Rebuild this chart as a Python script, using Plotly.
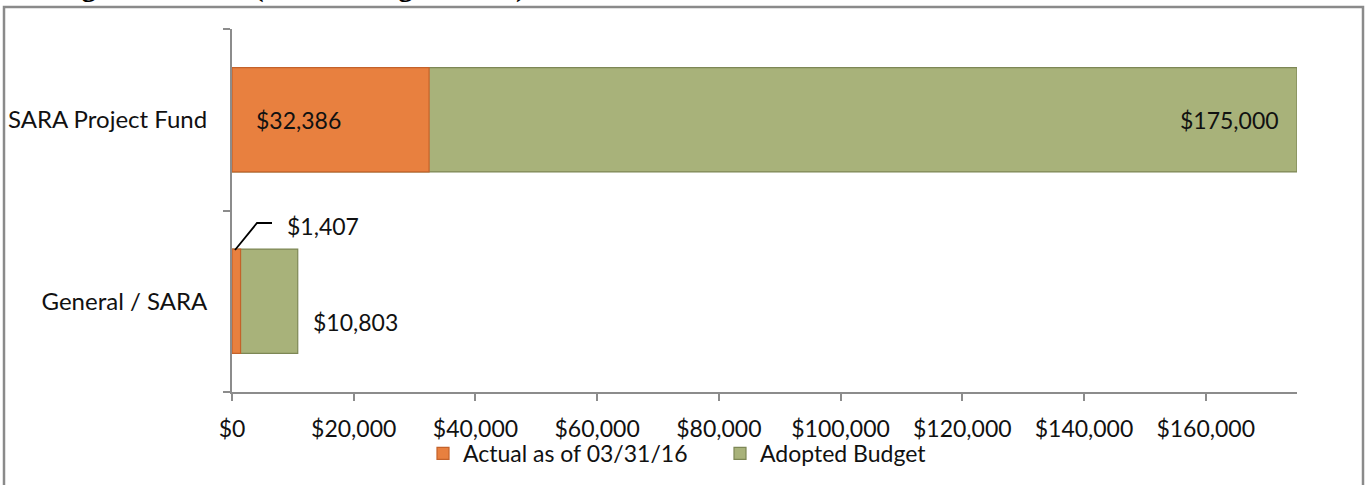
import plotly.graph_objects as go

categories = ["General / SARA", "SARA Project Fund"]
actual = [1407, 32386]
budget = [10803, 175000]
x_ticks = [0, 20000, 40000, 60000, 80000, 100000, 120000, 140000, 160000]
series_names = ["Actual as of 03/31/16", "Adopted Budget"]
title_text = "Budget vs. Actual (All Funding Sources)"

W, H = 1367, 485
ML, MR, MT, MB = 232, 70, 29, 93
PW, PH = W - ML - MR, H - MT - MB

FONT = "Lato"
FS = 23
TXT = "#111111"
ORANGE = "#E8803F"
GREEN = "#A8B27A"


def money(v):
    return "${:,.0f}".format(v)


fig = go.Figure()
fig.add_trace(go.Bar(
    y=categories, x=budget, orientation="h", name=series_names[1],
    marker=dict(color=GREEN, line=dict(color="#7D8755", width=1.2)),
    width=0.575, hoverinfo="x",
))
fig.add_trace(go.Bar(
    y=categories, x=actual, orientation="h", name=series_names[0],
    marker=dict(color=ORANGE, line=dict(color="#C4622A", width=1.2)),
    width=0.575, hoverinfo="x",
))

lab_font = dict(family=FONT, size=FS, color=TXT)
# data labels
fig.add_annotation(x=0, y=categories[1], text=money(actual[1]), showarrow=False,
                   xanchor="left", xshift=22, font=lab_font)
fig.add_annotation(x=budget[1], y=categories[1], text=money(budget[1]), showarrow=False,
                   xanchor="right", xshift=-16, font=lab_font)
fig.add_annotation(x=budget[0], y=categories[0], text=money(budget[0]), showarrow=False,
                   xanchor="left", xshift=13, yshift=-21, font=lab_font)
fig.add_annotation(x=actual[0], y=categories[0], text=money(actual[0]), showarrow=False,
                   xanchor="left", xshift=44, yshift=75, font=lab_font)


def px_x(p):
    return (p - ML) / PW


def px_y(p):
    return 1 - (p - MT) / PH


# leader line for the small label (elbow)
fig.add_shape(type="path",
              path=f"M {px_x(235)},{px_y(250)} L {px_x(257)},{px_y(223)} L {px_x(272)},{px_y(223)}",
              xref="paper", yref="paper", line=dict(color="#000000", width=1.8))

# outer frame
fig.add_shape(type="rect", xref="paper", yref="paper",
              x0=px_x(4), x1=px_x(1363), y0=px_y(495), y1=px_y(7),
              line=dict(color="#8A8A8A", width=2.5), layer="below")

# clipped title at the very top
fig.add_annotation(xref="paper", yref="paper", x=px_x(28), y=px_y(4.5), xanchor="left", yanchor="bottom",
                   text="<b>" + title_text + "</b>", showarrow=False,
                   font=dict(family="Liberation Serif", size=29, color="#000000"))

fig.update_layout(
    width=W, height=H,
    margin=dict(l=ML, r=MR, t=MT, b=MB, autoexpand=False),
    paper_bgcolor="white", plot_bgcolor="white",
    barmode="overlay",
    showlegend=True,
    legend=dict(orientation="h", x=(720 - ML) / PW, xanchor="center",
                y=-0.11, yanchor="top", traceorder="reversed",
                font=dict(family=FONT, size=FS, color=TXT),
                itemwidth=30, entrywidth=252, bgcolor="rgba(0,0,0,0)"),
    font=dict(family=FONT, size=FS, color=TXT),
)
fig.update_xaxes(range=[0, 175000], tickmode="array", tickvals=x_ticks,
                 ticktext=[money(v) for v in x_ticks], automargin=False,
                 showgrid=False, zeroline=False, showline=True, linecolor="#8C8C8C", linewidth=2,
                 ticks="outside", ticklen=7, tickwidth=2, tickcolor="#8C8C8C",
                 tickfont=lab_font, ticklabelstandoff=8)
fig.update_yaxes(categoryorder="array", categoryarray=categories, range=[-0.5, 1.5], automargin=False,
                 showgrid=False, zeroline=False, showline=True, linecolor="#8C8C8C", linewidth=2,
                 ticks="outside", ticklen=7, tickwidth=2, tickcolor="#8C8C8C", tickson="boundaries",
                 tickfont=dict(family=FONT, size=24, color=TXT), ticklabelstandoff=18)

fig.write_html("out.html", config={"displayModeBar": False},
               post_script="document.body.style.margin='0px';")
